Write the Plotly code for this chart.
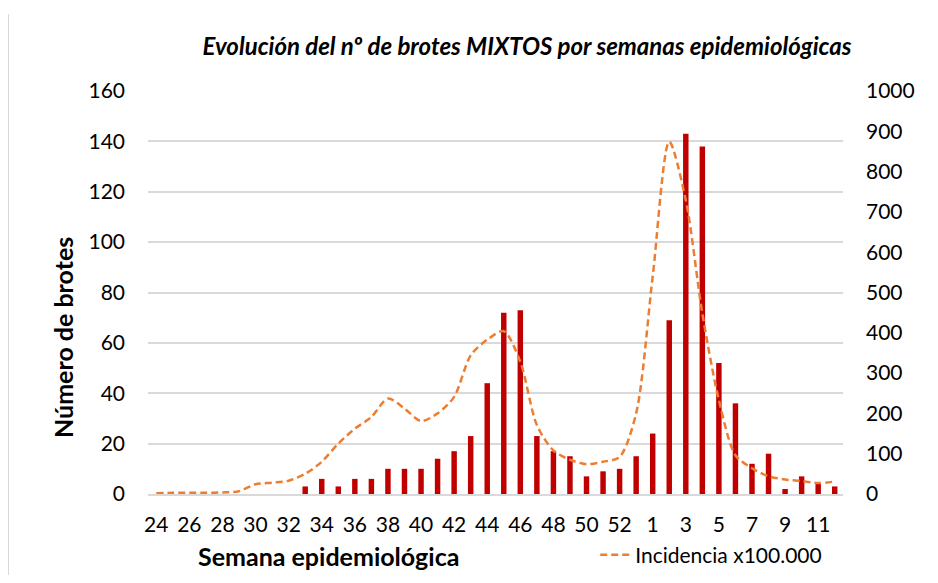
import plotly.graph_objects as go

weeks = [str(w) for w in range(24, 54)] + [str(w) for w in range(1, 13)]
brotes = [0, 0, 0, 0, 0, 0, 0, 0, 0,
          3, 6, 3, 6, 6, 10, 10, 10, 14, 17, 23, 44, 72, 73, 23, 17, 15, 7, 9, 10, 15,
          24, 69, 143, 138, 52, 36, 12, 16, 2, 7, 4, 3]
incidencia = [2, 3, 3, 3, 4, 7, 24, 28, 33, 50, 80, 125, 162, 191, 237, 212, 181, 200,
              241, 344, 383, 404, 328, 171, 108, 85, 74, 80, 92, 200,
              540, 874, 729, 448, 233, 96, 64, 44, 36, 32, 27, 31]
tick_labels = weeks[::2]

FONT = "Lato"
W, H = 922, 567          # page body has an 8px margin
L, T = 140, 83           # plot area top-left inside the figure
PW, PH = 695, 403        # plot area size

fig = go.Figure()
fig.add_trace(go.Bar(
    x=weeks, y=brotes, name="Nº de brotes",
    marker=dict(color="#C00000", line=dict(width=0)),
    showlegend=False,
))
fig.add_trace(go.Scatter(
    x=weeks, y=incidencia, name="Incidencia x100.000", yaxis="y2",
    mode="lines", line=dict(color="#ED7D31", width=2.5, dash="7px,4px", shape="spline", smoothing=0.8),
))

fig.update_layout(
    width=W, height=H,
    margin=dict(l=L, r=W - L - PW, t=T, b=H - T - PH, autoexpand=False),
    paper_bgcolor="white", plot_bgcolor="white",
    font=dict(family=FONT, size=21, color="#000000"),
    bargap=0.67,
    title=dict(
        text="<b><i>Evolución del nº de brotes MIXTOS por semanas epidemiológicas</i></b>",
        x=519 / W, xanchor="center", y=1 - 39 / H, yanchor="middle",
        font=dict(family=FONT, size=24, color="#000000"),
    ),
    xaxis=dict(
        type="category", tickmode="array", tickvals=tick_labels, ticktext=tick_labels,
        showgrid=False, showline=True, linecolor="#D9D9D9", linewidth=1.5,
        ticks="", ticklabelstandoff=11, tickangle=0,
        tickfont=dict(size=21),
    ),
    yaxis=dict(
        range=[0, 160], dtick=20, showgrid=True, gridcolor="#D9D9D9", gridwidth=1.5,
        zeroline=False, ticks="", ticklabelstandoff=22, tickfont=dict(size=21),
    ),
    yaxis2=dict(
        range=[0, 1000], dtick=100, overlaying="y", side="right", showgrid=False,
        zeroline=False, ticks="", ticklabelstandoff=22, tickfont=dict(size=21),
    ),
    legend=dict(
        x=0.6435, xanchor="left", y=-61 / PH, yanchor="middle",
        font=dict(size=21), bgcolor="rgba(0,0,0,0)",
    ),
    annotations=[
        dict(text="<b>Número de brotes</b>", xref="paper", yref="paper",
             x=-(L - 55) / PW, y=(PH - 247) / PH, xanchor="center", yanchor="middle",
             textangle=-90, showarrow=False, font=dict(family=FONT, size=25)),
        dict(text="<b>Semana epidemiológica</b>", xref="paper", yref="paper",
             x=180 / PW, y=-62 / PH, xanchor="center", yanchor="middle",
             showarrow=False, font=dict(family=FONT, size=25)),
    ],
    shapes=[
        dict(type="line", xref="paper", yref="paper",
             x0=-L / PW, x1=-L / PW,
             y0=(PH + T - 6) / PH, y1=-(H - T - PH) / PH,
             line=dict(color="#D9D9D9", width=2)),
    ],
)

fig.write_html("out.html")
